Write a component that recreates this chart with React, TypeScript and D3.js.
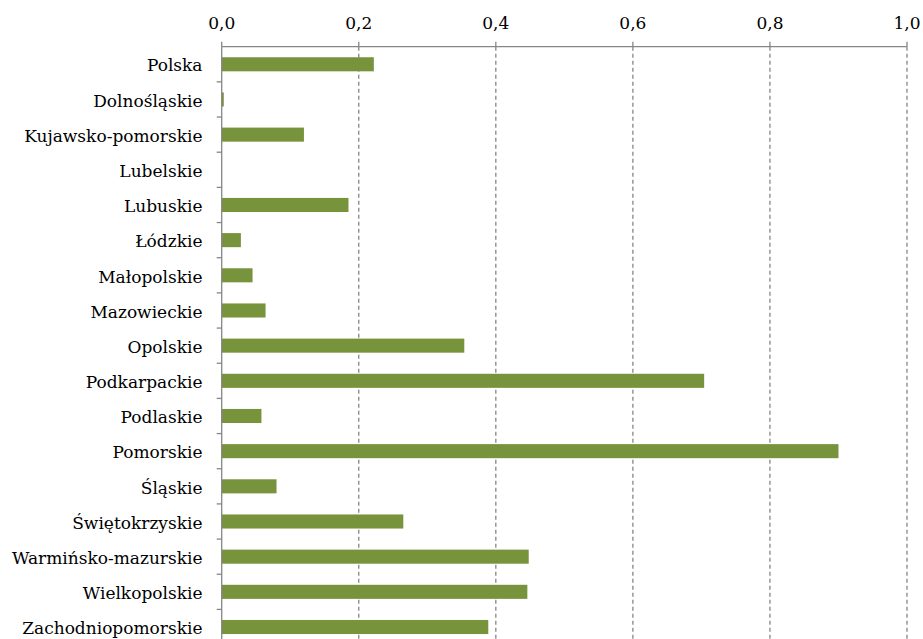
import React from "react";
import * as d3 from "d3";

const categories = [
  "Polska",
  "Dolnośląskie",
  "Kujawsko-pomorskie",
  "Lubelskie",
  "Lubuskie",
  "Łódzkie",
  "Małopolskie",
  "Mazowieckie",
  "Opolskie",
  "Podkarpackie",
  "Podlaskie",
  "Pomorskie",
  "Śląskie",
  "Świętokrzyskie",
  "Warmińsko-mazurskie",
  "Wielkopolskie",
  "Zachodniopomorskie",
];

const values = [
  0.222, 0.003, 0.12, 0, 0.185, 0.028, 0.045, 0.064, 0.354, 0.704, 0.058, 0.9,
  0.08, 0.265, 0.448, 0.446, 0.389,
];

const xTicks = [0, 0.2, 0.4, 0.6, 0.8, 1.0];

const W = 923;
const H = 639;
const left = 221.7;
const right = 907;
const top = 46.7;
const step = 35.17;
const FONT = "DejaVu Serif";

export default function App() {
  const x = d3.scaleLinear().domain([0, 1]).range([left, right]);
  const y = d3
    .scaleBand<string>()
    .domain(categories)
    .range([top, top + step * categories.length])
    .paddingInner(0.6)
    .paddingOuter(0.3);
  const st = y.step();
  const axisColor = "#868686";
  const fmt = (v: number) => d3.format(".1f")(v).replace(".", ",");

  return (
    <svg
      width={W}
      height={H}
      style={{ position: "absolute", left: 0, top: 0, background: "#fff" }}
    >
      {xTicks
        .filter((t) => t > 0)
        .map((t) => (
          <line
            key={"g" + t}
            x1={x(t)}
            x2={x(t)}
            y1={top}
            y2={H}
            stroke={axisColor}
            strokeWidth={1.3}
            strokeDasharray="4,3"
          />
        ))}
      {categories.map((c, i) => (
        <rect
          key={c}
          x={x(0)}
          y={y(c)}
          width={Math.max(0, x(values[i]) - x(0))}
          height={y.bandwidth()}
          fill="#77933C"
        />
      ))}
      <line x1={left} x2={right} y1={top} y2={top} stroke={axisColor} strokeWidth={1.3} />
      {xTicks.map((t) => (
        <g key={"t" + t}>
          <line x1={x(t)} x2={x(t)} y1={top - 5} y2={top} stroke={axisColor} strokeWidth={1.3} />
          <text x={x(t)} y={29.3} textAnchor="middle" fontFamily={FONT} fontSize={17} fill="#000">
            {fmt(t)}
          </text>
        </g>
      ))}
      <line x1={left} x2={left} y1={top} y2={H} stroke={axisColor} strokeWidth={1.3} />
      {categories.map((c, i) => (
        <g key={"c" + c}>
          <line
            x1={left - 5}
            x2={left}
            y1={top + st * (i + 1)}
            y2={top + st * (i + 1)}
            stroke={axisColor}
            strokeWidth={1.3}
          />
          <text
            x={202.5}
            y={(y(c) as number) + y.bandwidth() / 2 + 7.2}
            textAnchor="end"
            fontFamily={FONT}
            fontSize={17}
            fill="#000"
          >
            {c}
          </text>
        </g>
      ))}
    </svg>
  );
}
